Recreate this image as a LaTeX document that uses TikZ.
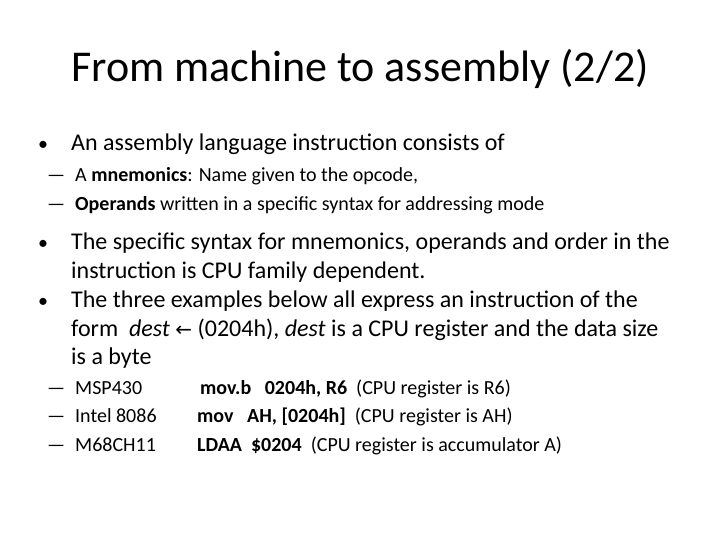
\documentclass[tikz,border=0pt]{standalone}
\usepackage{fontspec}
\setmainfont{Carlito}
\newfontfamily\djv{DejaVu Sans}
\begin{document}
\begin{tikzpicture}[x=1pt,y=-1pt,
  title/.style={anchor=base,font=\fontsize{44}{52}\selectfont},
  body/.style={anchor=base west,inner sep=0pt,font=\fontsize{24}{28}\selectfont},
  sub/.style={anchor=base west,inner sep=0pt,font=\fontsize{20}{24}\selectfont},
  bul/.style={anchor=base west,inner sep=0pt,font=\fontsize{20}{24}\selectfont}]
\useasboundingbox (0,0) rectangle (720,540);
\node[title] (t) at (360,82) {From machine to assembly (2/2)};
\node[bul] (b1) at (38,151) {\textbullet};
\node[body] (l1) at (71,151) {An assembly language instruction consists of};
\node[sub] (d1) at (47,182) {---};
\node[sub] (s1) at (75,182) {A \textbf{mnemonics}: Name given to the opcode,};
\node[sub] (d2) at (47,211) {---};
\node[sub] (s2) at (75,211) {\textbf{Operands} written in a specific syntax for addressing mode};
\node[bul] (b2) at (38,249) {\textbullet};
\node[body] (l2) at (71,249) {The specific syntax for mnemonics, operands and order in the};
\node[body] (l3) at (71,278) {instruction is CPU family dependent.};
\node[bul] (b3) at (38,307) {\textbullet};
\node[body] (l4) at (71,307) {The three examples below all express an instruction of the};
\node[body] (l5) at (71,336) {form\ \ \textit{dest} {\djv\fontsize{20}{24}\selectfont ←} (0204h), \textit{dest} is a CPU register and the data size};
\node[body] (l6) at (71,364) {is a byte};
\node[sub] (d3) at (47,394) {---};
\node[sub] (s3) at (75,394) {\makebox[125pt][l]{MSP430}\textbf{mov.b\ \ \ 0204h, R6}\ \ (CPU register is R6)};
\node[sub] (d4) at (47,422) {---};
\node[sub] (s4) at (75,422) {\makebox[122pt][l]{Intel 8086}\textbf{mov\ \ \ AH, [0204h]}\ \ (CPU register is AH)};
\node[sub] (d5) at (47,451) {---};
\node[sub] (s5) at (75,451) {\makebox[122pt][l]{M68CH11}\textbf{LDAA\ \ \$0204}\ \ (CPU register is accumulator A)};
\end{tikzpicture}
\end{document}
